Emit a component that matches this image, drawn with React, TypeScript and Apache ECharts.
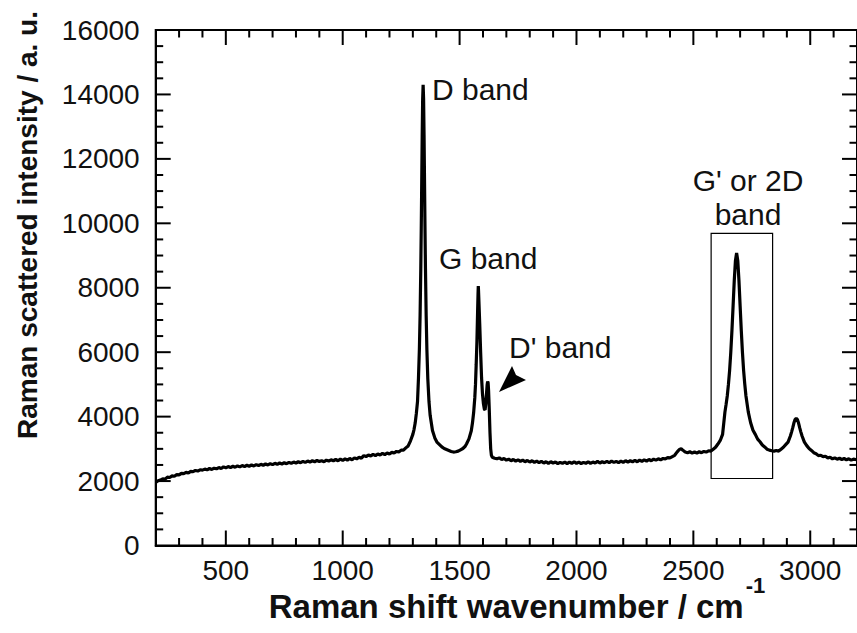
import { useEffect, useRef } from 'react';
import * as echarts from 'echarts';

const baselineLow: [number, number][] = [
  [200, 1960], [210, 2010], [220, 2030], [230, 2070], [240, 2060], [250, 2120], [260, 2110], [270, 2160],
  [280, 2150], [290, 2200], [300, 2190], [310, 2240], [320, 2230], [330, 2270], [340, 2250], [350, 2300],
  [360, 2290], [370, 2330], [380, 2310], [390, 2350], [400, 2340], [410, 2370], [420, 2350], [430, 2390],
  [440, 2360], [450, 2400], [460, 2380], [470, 2420], [480, 2390], [490, 2440], [500, 2410], [510, 2450],
  [520, 2420], [530, 2460], [540, 2430], [550, 2470], [560, 2440], [570, 2480], [580, 2450], [590, 2490],
  [600, 2460], [610, 2500], [620, 2470], [630, 2510], [640, 2480], [650, 2520], [660, 2490], [670, 2530],
  [680, 2500], [690, 2540], [700, 2510], [710, 2550], [720, 2520], [730, 2560], [740, 2530], [750, 2570],
  [760, 2540], [770, 2580], [780, 2550], [790, 2590], [800, 2560], [810, 2600], [820, 2570], [830, 2610],
  [840, 2580], [850, 2620], [860, 2590], [870, 2630], [880, 2600], [890, 2640], [900, 2610], [910, 2630],
  [920, 2600], [930, 2650], [940, 2620], [950, 2660], [960, 2630], [970, 2670], [980, 2630], [990, 2680],
  [1000, 2640], [1010, 2690], [1020, 2650], [1030, 2700], [1040, 2660], [1050, 2720], [1060, 2690],
  [1070, 2740], [1080, 2710], [1090, 2790], [1100, 2760], [1110, 2810], [1120, 2780], [1130, 2830],
  [1140, 2790], [1150, 2840], [1160, 2810], [1170, 2860], [1180, 2820], [1190, 2870], [1200, 2840],
  [1210, 2890], [1220, 2870], [1230, 2920], [1240, 2900], [1250, 2960], [1260, 2960], [1270, 3030],
];

const dBand: [number, number][] = [
  [1280, 3090], [1290, 3250], [1300, 3450], [1305, 3600], [1310, 3800], [1315, 4100], [1320, 4470],
  [1324, 5180], [1328, 6100], [1331, 7140], [1334, 8600], [1336, 9850], [1338, 11280], [1340, 12730],
  [1342, 13860], [1344, 14300], [1346, 13860], [1348, 12730], [1350, 11280], [1352, 9850], [1354, 8600],
  [1357, 7140], [1360, 6100], [1364, 5180], [1369, 4470], [1374, 4040], [1384, 3570], [1394, 3340],
  [1404, 3200], [1414, 3130], [1424, 3060], [1434, 3010], [1444, 2980], [1454, 2950], [1464, 2920],
  [1474, 2900], [1484, 2910], [1494, 2930], [1504, 2970], [1514, 3010], [1524, 3080],
];

const gBand: [number, number][] = [
  [1530, 3160], [1540, 3310], [1550, 3560], [1555, 3800], [1560, 4120], [1565, 4580], [1568, 5000],
  [1571, 5620], [1574, 6300], [1577, 7250], [1579, 7840], [1580, 8050], [1581, 7900], [1583, 7500],
  [1586, 6900], [1590, 6000], [1594, 5200], [1598, 4700], [1602, 4400], [1606, 4230], [1609, 4210],
  [1612, 4400], [1615, 4700], [1618, 5000], [1620, 5090], [1622, 5050], [1624, 4800], [1627, 4200],
  [1630, 3500], [1633, 3000], [1636, 2800], [1640, 2740], [1650, 2710],
];

const baselineMid: [number, number][] = [
  [1660, 2690], [1670, 2720], [1680, 2670], [1690, 2700], [1700, 2650], [1710, 2680], [1720, 2630],
  [1730, 2670], [1740, 2620], [1750, 2660], [1760, 2610], [1770, 2650], [1780, 2600], [1790, 2640],
  [1800, 2590], [1810, 2630], [1820, 2580], [1830, 2620], [1840, 2570], [1850, 2610], [1860, 2560],
  [1870, 2600], [1880, 2550], [1890, 2600], [1900, 2560], [1910, 2590], [1920, 2540], [1930, 2580],
  [1940, 2550], [1950, 2590], [1960, 2540], [1970, 2590], [1980, 2550], [1990, 2600], [2000, 2550],
  [2010, 2590], [2020, 2540], [2030, 2580], [2040, 2550], [2050, 2600], [2060, 2550], [2070, 2590],
  [2080, 2560], [2090, 2610], [2100, 2560], [2110, 2600], [2120, 2570], [2130, 2610], [2140, 2570],
  [2150, 2620], [2160, 2580], [2170, 2610], [2180, 2570], [2190, 2620], [2200, 2580], [2210, 2630],
  [2220, 2590], [2230, 2630], [2240, 2600], [2250, 2640], [2260, 2600], [2270, 2650], [2280, 2610],
  [2290, 2660], [2300, 2620], [2310, 2670], [2320, 2630], [2330, 2680], [2340, 2650], [2350, 2690],
  [2360, 2660], [2370, 2700], [2380, 2690], [2390, 2730], [2400, 2720], [2410, 2760], [2420, 2800],
  [2430, 2900], [2440, 2980], [2448, 3000], [2455, 2960], [2465, 2900], [2475, 2880], [2485, 2910],
  [2495, 2870], [2505, 2900], [2515, 2870], [2525, 2910], [2535, 2880], [2545, 2920], [2555, 2900],
  [2565, 2940], [2575, 2930], [2585, 2990], [2595, 3050],
];

const band2D: [number, number][] = [
  [2605, 3150], [2615, 3260], [2625, 3450], [2635, 4140], [2640, 4380], [2645, 4640], [2650, 5000],
  [2655, 5430], [2660, 5990], [2665, 6670], [2670, 7440], [2675, 8230], [2680, 8840], [2685, 9080],
  [2690, 8840], [2695, 8230], [2700, 7440], [2705, 6670], [2710, 5990], [2715, 5430], [2720, 5000],
  [2725, 4640], [2735, 4140], [2745, 3810], [2755, 3580], [2765, 3450], [2775, 3300], [2785, 3220],
  [2795, 3120], [2805, 3060], [2815, 2990], [2825, 2960], [2835, 2940], [2845, 2930], [2855, 2950],
  [2865, 2930],
];

const bandHigh: [number, number][] = [
  [2875, 2990], [2885, 3050], [2895, 3130], [2905, 3210], [2915, 3400], [2920, 3520], [2925, 3650],
  [2930, 3800], [2935, 3910], [2940, 3950], [2945, 3910], [2950, 3800], [2955, 3650], [2960, 3520],
  [2965, 3400], [2975, 3210], [2985, 3100], [2995, 3010], [3005, 2950], [3015, 2880], [3025, 2850],
  [3035, 2790], [3045, 2800], [3055, 2760], [3065, 2770], [3075, 2720], [3085, 2740], [3095, 2690],
  [3105, 2720], [3115, 2680], [3125, 2710], [3135, 2670], [3145, 2700], [3155, 2660], [3165, 2690],
  [3175, 2650], [3185, 2680], [3200, 2660],
];

const xMajorTicks = [500, 1000, 1500, 2000, 2500, 3000];
const xMinorTicks = [
  300, 400, 600, 700, 800, 900, 1100, 1200, 1300, 1400, 1600, 1700, 1800, 1900,
  2100, 2200, 2300, 2400, 2600, 2700, 2800, 2900, 3100,
];
const yMajorTicks = [2000, 4000, 6000, 8000, 10000, 12000, 14000];
const yMinorTicks = [
  500, 1000, 1500, 2500, 3000, 3500, 4500, 5000, 5500, 6500, 7000, 7500, 8500, 9000, 9500,
  10500, 11000, 11500, 12500, 13000, 13500, 14500, 15000, 15500,
];
const xRange = [200, 3200];
const yRange = [0, 16000];
const yStep = 2000;

// highlighted G' (2D) band region: [x0, y0, x1, y1]
const boxRegion = [2576, 9690, 2839, 2080];

const FONT = '"Liberation Sans", Arial, Helvetica, sans-serif';

export default function App() {
  const ref = useRef<HTMLDivElement>(null);

  useEffect(() => {
    if (!ref.current) return;
    const chart = echarts.init(ref.current, null, { renderer: 'svg' });
    const spectrum = [...baselineLow, ...dBand, ...gBand, ...baselineMid, ...band2D, ...bandHigh];
    const fmt = (v: number) => String(v);

    const MAJOR = 15;
    const MINOR = 7.5;
    const TW = 2;
    const tickFill = { fill: '#000' };

    // tick items: [xValue, yValue, isMajor]
    const xTickData = [
      ...xMajorTicks.map((v) => [v, yRange[0], 1]),
      ...xMinorTicks.map((v) => [v, yRange[0], 0]),
    ];
    const yTickData = [
      ...yMajorTicks.map((v) => [xRange[0], v, 1]),
      ...yMinorTicks.map((v) => [xRange[0], v, 0]),
    ];

    const xTickRender = (_p: any, api: any) => {
      const v = api.value(0);
      const len = api.value(2) ? MAJOR : MINOR;
      const b = api.coord([v, yRange[0]]);
      const t = api.coord([v, yRange[1]]);
      return {
        type: 'group',
        children: [
          { type: 'rect', shape: { x: b[0] - TW / 2, y: b[1] - len, width: TW, height: len }, style: tickFill },
          { type: 'rect', shape: { x: t[0] - TW / 2, y: t[1], width: TW, height: len }, style: tickFill },
        ],
      };
    };
    const yTickRender = (_p: any, api: any) => {
      const v = api.value(1);
      const len = api.value(2) ? MAJOR : MINOR;
      const l = api.coord([xRange[0], v]);
      const r = api.coord([xRange[1], v]);
      return {
        type: 'group',
        children: [
          { type: 'rect', shape: { x: l[0], y: l[1] - TW / 2, width: len, height: TW }, style: tickFill },
          { type: 'rect', shape: { x: r[0] - len, y: r[1] - TW / 2, width: len, height: TW }, style: tickFill },
        ],
      };
    };

    chart.setOption({
      animation: false,
      backgroundColor: '#fff',
      grid: {
        left: 155.7, top: 30, width: 708.6, height: 515.5,
        show: true, borderColor: '#000', borderWidth: 2, backgroundColor: 'transparent',
      },
      xAxis: {
        type: 'value', position: 'bottom', min: xRange[0], max: xRange[1],
        axisLine: { show: true, onZero: false, lineStyle: { color: '#000', width: 2 } },
        axisTick: { show: false },
        axisLabel: { show: true, customValues: xMajorTicks, formatter: fmt, margin: 11, fontSize: 28, color: '#111', fontFamily: FONT },
        splitLine: { show: false },
      },
      yAxis: {
        type: 'value', position: 'left', min: yRange[0], max: yRange[1], interval: yStep,
        axisLine: { show: true, onZero: false, lineStyle: { color: '#000', width: 2 } },
        axisTick: { show: false },
        minorTick: { show: false },
        axisLabel: { show: true, formatter: fmt, margin: 16, fontSize: 28, color: '#111', fontFamily: FONT },
        splitLine: { show: false },
      },
      series: [
        {
          type: 'line',
          data: spectrum,
          showSymbol: false,
          symbol: 'none',
          z: 3,
          lineStyle: { color: '#000', width: 3.2 },
          markArea: {
            silent: true,
            label: { show: false },
            itemStyle: { color: 'rgba(0,0,0,0)', borderColor: '#000', borderWidth: 1.2 },
            data: [[{ coord: [boxRegion[0], boxRegion[1]] }, { coord: [boxRegion[2], boxRegion[3]] }]],
          },
        },
        {
          type: 'custom', data: xTickData, encode: { x: 0, y: 1 },
          renderItem: xTickRender, silent: true, clip: false, z: 4,
        },
        {
          type: 'custom', data: yTickData, encode: { x: 0, y: 1 },
          renderItem: yTickRender, silent: true, clip: false, z: 4,
        },
      ],
      graphic: [
        {
          type: 'text', x: 27, y: 225, rotation: Math.PI / 2, silent: true,
          style: { text: 'Raman scattered intensity / a. u.', fill: '#111', font: `bold 28px ${FONT}`, align: 'center', verticalAlign: 'middle' },
        },
        {
          type: 'text', x: 517, y: 606, silent: true,
          style: {
            text: '{a|Raman shift wavenumber / cm}{b|-1}',
            align: 'center',
            verticalAlign: 'middle',
            rich: {
              a: { fontSize: 33, fontWeight: 'bold', fontFamily: FONT, fill: '#111', lineHeight: 34, verticalAlign: 'bottom' },
              b: { fontSize: 22, fontWeight: 'bold', fontFamily: FONT, fill: '#111', lineHeight: 22, verticalAlign: 'bottom', padding: [0, 0, 27, 2] },
            },
          },
        },
        { type: 'text', x: 432, y: 89, silent: true, style: { text: 'D band', fill: '#111', font: `30px ${FONT}`, align: 'left', verticalAlign: 'middle' } },
        { type: 'text', x: 439, y: 258, silent: true, style: { text: 'G band', fill: '#111', font: `30px ${FONT}`, align: 'left', verticalAlign: 'middle' } },
        { type: 'text', x: 509, y: 347, silent: true, style: { text: "D' band", fill: '#111', font: `30px ${FONT}`, align: 'left', verticalAlign: 'middle' } },
        { type: 'text', x: 748, y: 180, silent: true, style: { text: "G' or 2D", fill: '#111', font: `30px ${FONT}`, align: 'center', verticalAlign: 'middle' } },
        { type: 'text', x: 748, y: 214, silent: true, style: { text: 'band', fill: '#111', font: `30px ${FONT}`, align: 'center', verticalAlign: 'middle' } },
        {
          type: 'polygon', silent: true,
          shape: { points: [[499, 392], [512, 366], [516, 375], [526, 380]] },
          style: { fill: '#000' },
        },
      ],
    });

    return () => chart.dispose();
  }, []);

  return <div ref={ref} style={{ position: 'fixed', left: 0, top: 0, width: 857, height: 633 }} />;
}
